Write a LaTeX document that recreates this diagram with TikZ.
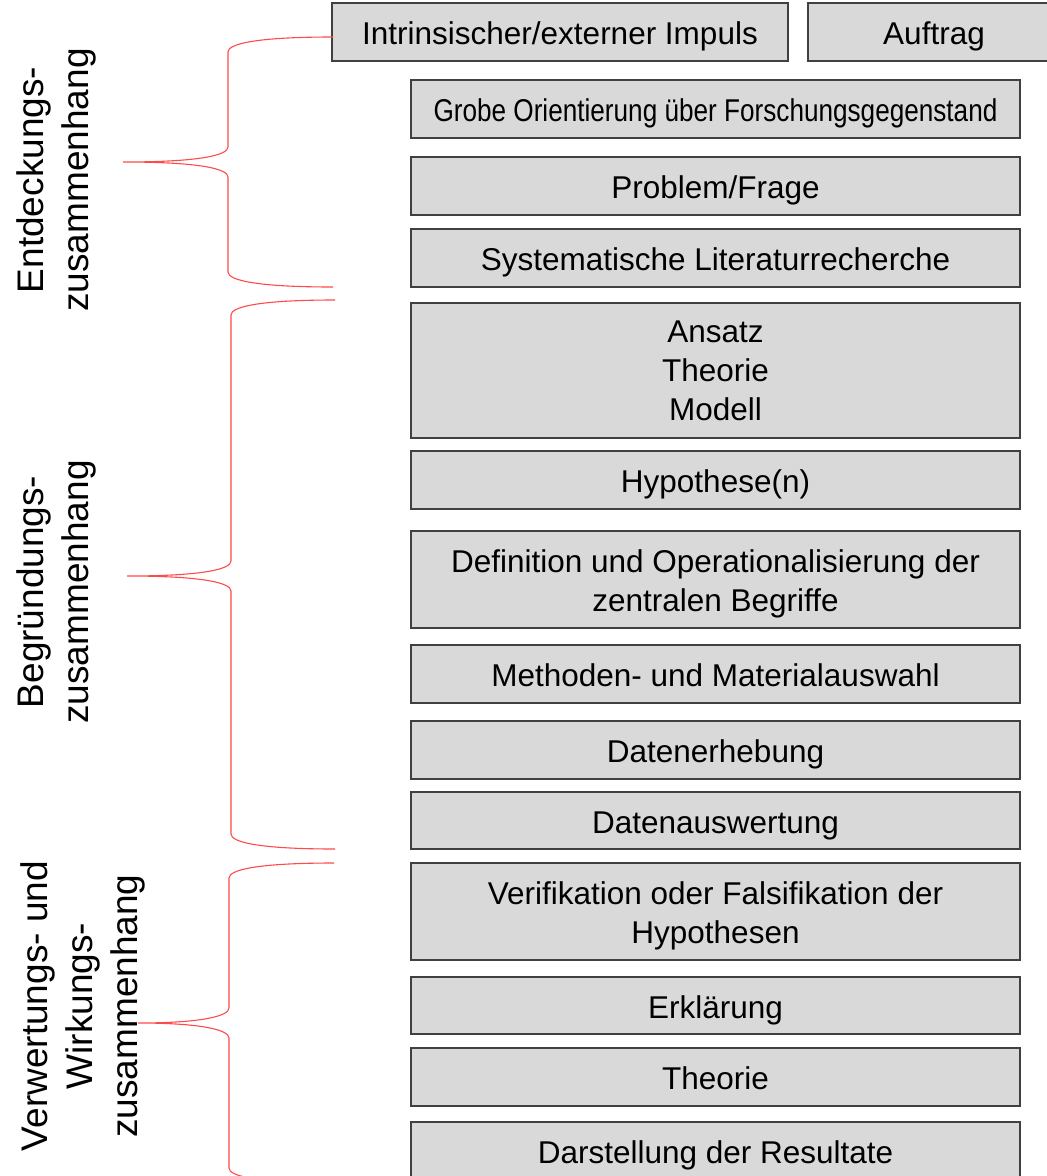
\documentclass[tikz,border=0pt]{standalone}
\usepackage{fontspec}
\setmainfont{Liberation Sans}
\definecolor{boxfill}{HTML}{D9D9D9}
\definecolor{boxline}{HTML}{404040}
\definecolor{bracered}{HTML}{FF4A4A}
\newcommand\ls{\rule[-6.6pt]{0pt}{38.6pt}}
\newcommand\ld{\rule[-6.6pt]{0pt}{6.6pt}}
\newcommand\mybrace[6]{% xend, ytop, ybot, xvert, xtip, ymid
  \draw[bracefine] (#1,#2) .. controls (#4+27,#2) and (#4,#2+7) .. (#4,#2+15)
    -- (#4,#6-15) .. controls (#4,#6-7) and (#4-27,#6) .. (#5,#6)
    (#5,#6) .. controls (#4-27,#6) and (#4,#6+7) .. (#4,#6+15)
    -- (#4,#3-15) .. controls (#4,#3-7) and (#4+27,#3) .. (#1,#3);}
\begin{document}
\begin{tikzpicture}[x=1pt,y=-1pt,
  stepbox/.style={draw=boxline, fill=boxfill, line width=1.4pt, inner sep=0pt,
    align=center, font=\fontsize{31.5}{39}\selectfont},
  wide/.style={stepbox, minimum width=609pt},
  sidelabel/.style={rotate=90, align=center, inner sep=0pt, font=\fontsize{37}{45}\selectfont},
  bracefine/.style={draw=bracered, line width=1.1pt}]
\useasboundingbox (0,0) rectangle (1047,1176);
\node[stepbox, minimum width=456pt, minimum height=58pt] (impuls) at (560,32) {\ls Intrinsischer/externer Impuls};
\node[stepbox, minimum width=252pt, minimum height=58pt] (auftrag) at (934,32) {\ls Auftrag};
\node[wide, minimum height=58pt] (grobe) at (715.5,109) {\ls\scalebox{0.83}[1]{Grobe Orientierung über Forschungsgegenstand}};
\node[wide, minimum height=58pt] (problem) at (715.5,186) {\ls Problem/Frage};
\node[wide, minimum height=58pt] (syst) at (715.5,258) {\ls Systematische Literaturrecherche};
\node[wide, minimum height=135pt] (ansatz) at (715.5,370.5) {Ansatz\\Theorie\\Modell};
\node[wide, minimum height=58pt] (hypo) at (715.5,480) {\ls Hypothese(n)};
\node[wide, minimum height=97pt] (defin) at (715.5,579.5) {\ls Definition und Operationalisierung der\\zentralen Begriffe\ld};
\node[wide, minimum height=58pt] (methoden) at (715.5,674) {\ls Methoden- und Materialauswahl};
\node[wide, minimum height=58pt] (erhebung) at (715.5,750) {\ls Datenerhebung};
\node[wide, minimum height=57pt] (auswertung) at (715.5,820.5) {\ls Datenauswertung};
\node[wide, minimum height=97pt] (verif) at (715.5,911.5) {\ls Verifikation oder Falsifikation der\\Hypothesen\ld};
\node[wide, minimum height=57pt] (erkl) at (715.5,1005.5) {\ls Erklärung};
\node[wide, minimum height=58pt] (theorie) at (715.5,1077) {\ls Theorie};
\node[wide, minimum height=58pt] (darst) at (715.5,1151) {\ls Darstellung der Resultate};
\node[sidelabel] (lab1) at (56,180) {Entdeckungs-\\zusammenhang};
\node[sidelabel] (lab2) at (56,592) {Begründungs-\\zusammenhang};
\node[sidelabel] (lab3) at (83,1006) {Verwertungs- und\\Wirkungs-\\zusammenhang};
\mybrace{333}{37}{287}{228}{123}{162}
\mybrace{335}{300}{849}{231}{127}{576}
\mybrace{334}{863}{1183}{229}{138}{1023}
\end{tikzpicture}
\end{document}
